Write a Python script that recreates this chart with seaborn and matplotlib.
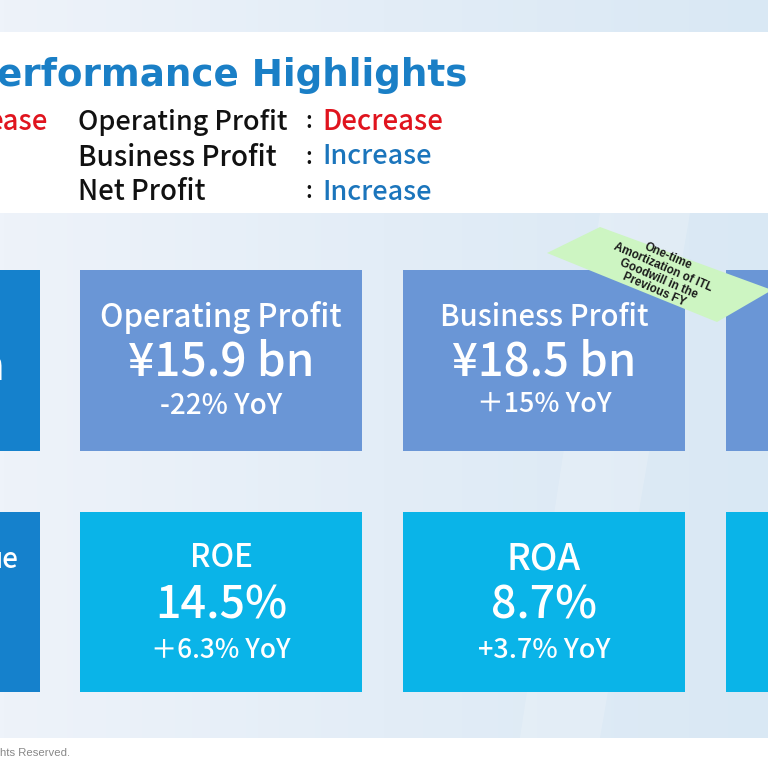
import numpy as np
import seaborn as sns
import matplotlib.pyplot as plt
from matplotlib.patches import Rectangle, Polygon

# slide content
summary_items = ["Operating Profit", "Business Profit", "Net Profit"]
summary_trend = ["Decrease", "Increase", "Increase"]

top_titles = ["Operating Profit", "Business Profit"]
top_values = ["¥15.9 bn", "¥18.5 bn"]
top_changes = ["-22% YoY", "＋15% YoY"]

bottom_titles = ["ROE", "ROA"]
bottom_values = ["14.5%", "8.7%"]
bottom_changes = ["＋6.3% YoY", "+3.7% YoY"]

note_lines = ["One-time", "Amortization of ITL", "Goodwill in the", "Previous FY"]

sns.set_theme(style="white")
plt.rcParams['font.family'] = ['Noto Sans CJK JP', 'DejaVu Sans']

fig = plt.figure(figsize=(7.68, 7.68), dpi=100)
ax = fig.add_axes([0, 0, 1, 1])
ax.set_xlim(0, 768)
ax.set_ylim(768, 0)
ax.axis("off")
renderer = fig.canvas.get_renderer()


def fit_text(x, y, s, width, **kw):
    # draw text, then scale its font so it spans `width` pixels
    rot = kw.pop("rotation", 0)
    t = ax.text(x, y, s, fontsize=10, **kw)
    w = t.get_window_extent(renderer).width
    t.set_fontsize(10 * width / w)
    t.set_rotation(rot)
    return t


# background gradient
grad = np.linspace(0, 1, 256)[None, :]
cmap = sns.blend_palette(["#eef3fa", "#e3edf7", "#d9e8f4"], as_cmap=True)
ax.imshow(grad, extent=[0, 768, 768, 0], cmap=cmap, aspect="auto", zorder=0)
ax.add_patch(Polygon([[600, 213], [690, 213], [600, 738], [520, 738]],
                     closed=True, color="white", alpha=0.18, lw=0, zorder=0.5))

# white header band and footer
ax.add_patch(Rectangle((0, 32), 768, 181, color="white", lw=0, zorder=1))
ax.add_patch(Rectangle((0, 738), 768, 30, color="white", lw=0, zorder=1))

fit_text(-3, 75, "erformance Highlights", 470, color="#1a7fc6",
         fontweight="bold", family=['DejaVu Sans'], ha="left", va="center", zorder=3)

red = "#e0141e"
blue = "#1b75bc"
item_w = [210, 200, 128]
trend_w = {"Decrease": 121, "Increase": 110}
for i, (item, trend) in enumerate(zip(summary_items, summary_trend)):
    y = 122 + 35 * i
    fit_text(78, y, item, item_w[i], color="#111111", fontweight="medium",
             ha="left", va="center", zorder=3)
    ax.text(309, y, ":", color="#111111", fontsize=16, fontweight="medium",
            ha="center", va="center", zorder=3)
    tt = fit_text(322, y, trend, trend_w[trend], color=red if trend == "Decrease" else blue,
                  fontweight="medium", ha="left", va="center", zorder=3)
    if i == 0:
        trend_size = tt.get_fontsize()

ax.text(48, 122, "ease", color=red, fontsize=trend_size, fontweight="medium",
        ha="right", va="center", zorder=3)

fit_text(0, 753, "hts Reserved.", 70, color="#888888",
         family=['Liberation Sans', 'DejaVu Sans'], ha="left", va="center", zorder=3)

# boxes
top_col = "#6a96d6"
bot_col = "#0ab4e8"
left_col = "#1581cc"
xs = [80, 403]
bw = 282
ax.add_patch(Rectangle((-5, 270), 45, 181, color=left_col, lw=0, zorder=2))
ax.add_patch(Rectangle((-5, 512), 45, 180, color=left_col, lw=0, zorder=2))
ax.add_patch(Rectangle((726, 270), 50, 181, color=top_col, lw=0, zorder=2))
ax.add_patch(Rectangle((726, 512), 50, 180, color=bot_col, lw=0, zorder=2))
ax.text(4, 368, "n", color="white", fontsize=31, fontweight="medium",
        ha="right", va="center", zorder=3)
ax.text(19, 559, "ue", color="white", fontsize=20, fontweight="medium",
        ha="right", va="center", zorder=3)

top_w = [(242, 187, 122), (210, 184, 134)]
for x0, t, v, c, (w1, w2, w3) in zip(xs, top_titles, top_values, top_changes, top_w):
    ax.add_patch(Rectangle((x0, 270), bw, 181, color=top_col, lw=0, zorder=2))
    cx = x0 + bw / 2
    fit_text(cx, 318, t, w1, color="white", fontweight="medium",
             ha="center", va="center", zorder=3)
    fit_text(cx, 362, v, w2, color="white", fontweight="medium",
             ha="center", va="center", zorder=3)
    fit_text(cx, 405, c, w3, color="white", fontweight="medium",
             ha="center", va="center", zorder=3)

bot_w = [(63, 132, 139), (74, 106, 132)]
for x0, t, v, c, (w1, w2, w3) in zip(xs, bottom_titles, bottom_values, bottom_changes, bot_w):
    ax.add_patch(Rectangle((x0, 512), bw, 180, color=bot_col, lw=0, zorder=2))
    cx = x0 + bw / 2
    fit_text(cx, 558, t, w1, color="white", fontweight="medium",
             ha="center", va="center", zorder=3)
    fit_text(cx, 606, v, w2, color="white", fontweight="medium",
             ha="center", va="center", zorder=3)
    fit_text(cx, 650, c, w3, color="white", fontweight="medium",
             ha="center", va="center", zorder=3)

# green note band
ax.add_patch(Polygon([[547, 253], [600, 227], [772, 290], [717, 322]], closed=True,
                     color="#cdf5c2", lw=0, zorder=4))
fit_text(661, 273, "\n".join(note_lines), 106, color="#1a1a1a",
         fontweight="bold", family=['Liberation Sans', 'DejaVu Sans'],
         ha="center", va="center", rotation=-23.5,
         rotation_mode="anchor", multialignment="center", linespacing=1.0, zorder=5)

fig.savefig("out.png", dpi=100)
